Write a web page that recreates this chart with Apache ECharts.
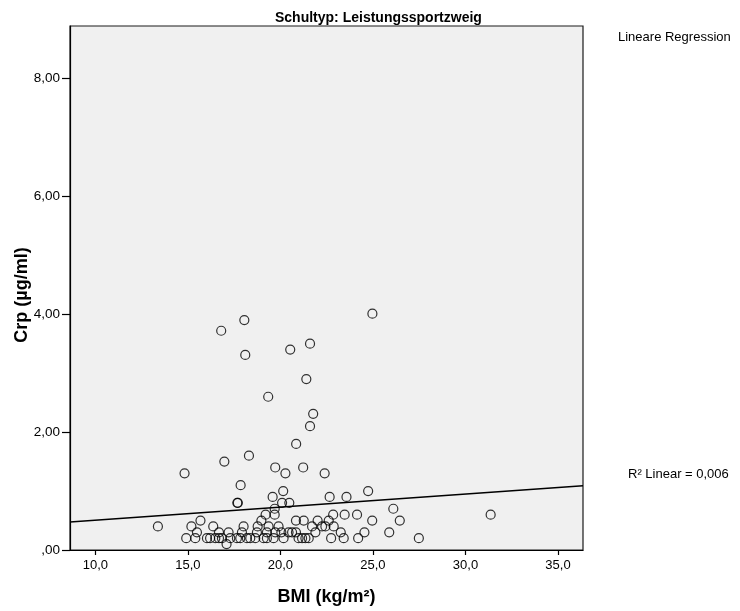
<!DOCTYPE html>
<html>
<head>
<meta charset="utf-8">
<title>Crp vs BMI – Leistungssportzweig</title>
<script src="https://cdn.jsdelivr.net/npm/echarts@6/dist/echarts.min.js"></script>
<style>
  html, body { margin: 0; padding: 0; background: #ffffff; }
  #chart { width: 740px; height: 611px; }
</style>
</head>
<body>
<div id="chart"></div>
<script>
// BMI (kg/m²) of each pupil
const bmi = [
  16.80, 18.05, 18.10, 20.53, 21.60, 24.97, 21.40, 19.34, 21.77, 21.60,
  20.85, 18.30, 16.97, 14.82, 19.72, 21.23, 20.27, 22.39, 17.85,
  20.15, 24.74,
  19.58, 22.66, 23.57,
  17.67, 17.70, 20.09, 20.48,
  19.69, 26.10,
  19.69, 19.20, 22.85, 23.47, 24.14, 31.36,
  15.68, 18.97, 20.84, 21.26, 22.01, 22.61, 24.96, 26.45,
  13.38, 15.19, 16.37, 18.01, 18.77, 19.36, 19.90, 21.71, 22.25, 22.43, 22.88,
  15.49, 16.68, 17.20, 17.92, 18.73, 19.27, 19.72, 20.05, 20.44, 20.63, 20.84,
  21.89, 23.26, 24.54, 25.88,
  14.91, 15.40, 16.03, 16.20, 16.48, 16.68, 16.84, 17.29, 17.65, 17.83,
  18.19, 18.37, 18.64, 19.09, 19.27, 19.63, 20.17, 20.98, 21.17, 21.35,
  21.53, 22.74, 23.42, 24.20, 27.48,
  17.09
];

// Crp (µg/ml) of the same pupils, same order
const crp = [
  3.72, 3.90, 3.31, 3.40, 3.50, 4.01, 2.90, 2.60, 2.31, 2.10,
  1.80, 1.60, 1.50, 1.30, 1.40, 1.40, 1.30, 1.30, 1.10,
  1.00, 1.00,
  0.90, 0.90, 0.90,
  0.80, 0.80, 0.80, 0.80,
  0.70, 0.70,
  0.60, 0.60, 0.60, 0.60, 0.60, 0.60,
  0.50, 0.50, 0.50, 0.50, 0.50, 0.50, 0.50, 0.50,
  0.40, 0.40, 0.40, 0.40, 0.40, 0.40, 0.40, 0.40, 0.40, 0.40, 0.40,
  0.30, 0.30, 0.30, 0.30, 0.30, 0.30, 0.30, 0.30, 0.30, 0.30, 0.30,
  0.30, 0.30, 0.30, 0.30,
  0.20, 0.20, 0.20, 0.20, 0.20, 0.20, 0.20, 0.20, 0.20, 0.20,
  0.20, 0.20, 0.20, 0.20, 0.20, 0.20, 0.20, 0.20, 0.20, 0.20,
  0.20, 0.20, 0.20, 0.20, 0.20,
  0.10
];

// Fitted linear regression (R² = 0,006), evaluated at both ends of the x range
const fitX = [8.63, 36.35];
const fitY = [0.475, 1.09];
const rSquared = '0,006';

// Axis ranges and tick positions
const xRange = [8.63, 36.35];
const yRange = [0, 8.89];
const xTicks = [10, 15, 20, 25, 30, 35];
const yTicks = [0, 2, 4, 6, 8];
const xTickLabels = ['10,0', '15,0', '20,0', '25,0', '30,0', '35,0'];
const yTickLabels = [',00', '2,00', '4,00', '6,00', '8,00'];

const points = bmi.map((b, i) => [b, crp[i]]);
const fitLine = fitX.map((x, i) => [x, fitY[i]]);

const FONT = '"Liberation Sans", Arial, sans-serif';

const chart = echarts.init(document.getElementById('chart'), null, { renderer: 'canvas' });

chart.setOption({
  backgroundColor: '#ffffff',
  animation: false,
  textStyle: { fontFamily: FONT },
  title: [
    {
      text: 'Schultyp: Leistungssportzweig',
      left: 270, top: 6,
      textStyle: { fontFamily: FONT, fontSize: 14, fontWeight: 'bold', color: '#000' }
    }
  ],
  grid: {
    left: 70, right: 157, top: 26, bottom: 61,
    show: true,
    backgroundColor: '#f0f0f0',
    borderColor: '#1a1a1a',
    borderWidth: 1.2
  },
  xAxis: {
    type: 'value',
    min: xRange[0], max: xRange[1],
    axisLine: { show: true, lineStyle: { color: '#000', width: 1.2 } },
    axisTick: {
      show: true, length: 5, inside: false,
      customValues: xTicks,
      lineStyle: { color: '#000', width: 1.2 }
    },
    axisLabel: {
      customValues: xTicks,
      margin: 9,
      fontFamily: FONT, fontSize: 13, color: '#000',
      formatter: v => xTickLabels[xTicks.indexOf(Math.round(v))] ?? ''
    },
    splitLine: { show: false }
  },
  yAxis: {
    type: 'value',
    min: yRange[0], max: yRange[1],
    axisLine: { show: true, lineStyle: { color: '#000', width: 1.2 } },
    axisTick: {
      show: true, length: 8, inside: false,
      customValues: yTicks,
      lineStyle: { color: '#000', width: 1.2 }
    },
    axisLabel: {
      customValues: yTicks,
      margin: 10,
      fontFamily: FONT, fontSize: 13.5, color: '#000',
      formatter: v => yTickLabels[yTicks.indexOf(Math.round(v))] ?? ''
    },
    splitLine: { show: false }
  },
  series: [
    {
      name: 'Crp',
      type: 'scatter',
      data: points,
      symbol: 'circle',
      symbolSize: 9,
      itemStyle: { color: 'rgba(0,0,0,0)', borderColor: '#000', borderWidth: 1.2 },
      emphasis: { disabled: true },
      z: 3
    },
    {
      name: 'Lineare Regression',
      type: 'line',
      data: fitLine,
      symbol: 'none',
      lineStyle: { color: '#000', width: 1.5 },
      emphasis: { disabled: true },
      z: 4
    }
  ],
  graphic: [
    {
      type: 'text',
      left: 618, top: 31,
      style: { text: 'Lineare Regression', font: '13px ' + FONT, fill: '#000' }
    },
    {
      type: 'text',
      left: 628, top: 468,
      style: { text: 'R² Linear = ' + rSquared, font: '13px ' + FONT, fill: '#000' }
    },
    {
      type: 'text',
      x: 22, y: 295,
      rotation: Math.PI / 2,
      style: {
        text: 'Crp (µg/ml)', font: 'bold 18px ' + FONT, fill: '#000',
        align: 'center', verticalAlign: 'middle'
      }
    },
    {
      type: 'text',
      x: 326.5, y: 597,
      style: {
        text: 'BMI (kg/m²)', font: 'bold 18px ' + FONT, fill: '#000',
        align: 'center', verticalAlign: 'middle'
      }
    }
  ]
});
</script>
</body>
</html>
